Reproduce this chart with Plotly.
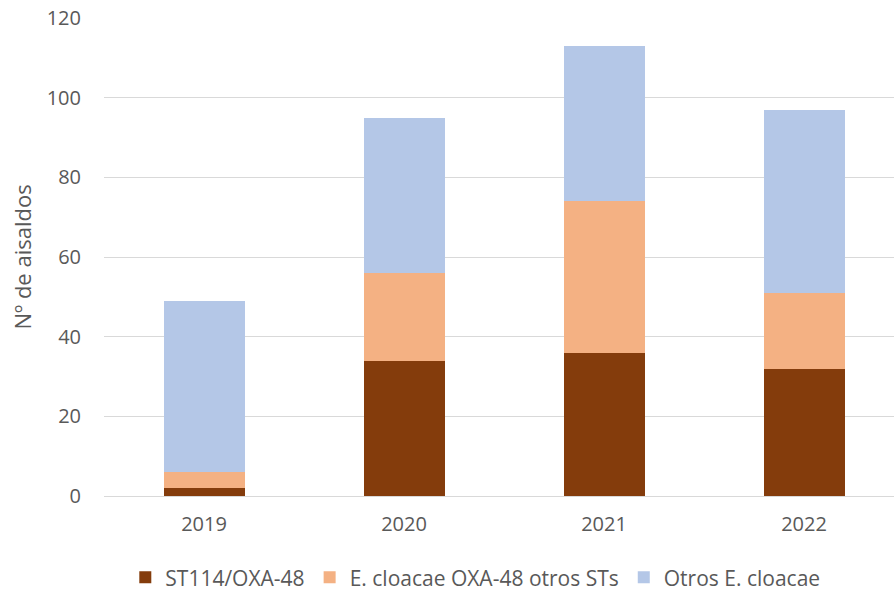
import plotly.graph_objects as go

years = ["2019", "2020", "2021", "2022"]
st114_oxa48 = [2, 34, 36, 32]
oxa48_otros_sts = [4, 22, 38, 19]
otros_cloacae = [43, 39, 39, 46]

series = [
    ("ST114/OXA-48", st114_oxa48, "#843C0C"),
    ("E. cloacae OXA-48 otros STs", oxa48_otros_sts, "#F4B183"),
    ("Otros E. cloacae", otros_cloacae, "#B4C7E7"),
]

fig = go.Figure()
for name, vals, color in series:
    fig.add_trace(go.Bar(x=years, y=vals, name=name, marker=dict(color=color, line=dict(width=0))))

font_family = "Open Sans, Liberation Sans, sans-serif"
text_color = "#595959"

fig.update_layout(
    barmode="stack",
    bargap=0.595,
    width=894,
    height=595,
    margin=dict(l=104, r=0, t=18, b=99, autoexpand=False),
    plot_bgcolor="white",
    paper_bgcolor="white",
    font=dict(family=font_family, size=20, color=text_color),
    legend=dict(
        orientation="h",
        x=0.47, xref="paper", xanchor="center",
        y=-0.128, yanchor="top",
        font=dict(size=21, color=text_color),
        itemwidth=30,
        traceorder="normal",
    ),
    showlegend=True,
)
fig.update_xaxes(
    range=[-0.5, 3.45],
    showgrid=False,
    showline=True,
    linecolor="#D9D9D9",
    linewidth=1,
    ticks="outside",
    ticklen=10,
    tickcolor="rgba(0,0,0,0)",
    tickfont=dict(size=20, color=text_color),
)
fig.update_yaxes(
    range=[0, 120],
    dtick=20,
    showgrid=True,
    gridcolor="#D9D9D9",
    gridwidth=1,
    zeroline=False,
    showline=False,
    ticks="outside",
    ticklen=18,
    tickcolor="rgba(0,0,0,0)",
    tickfont=dict(size=20, color=text_color),
    title=dict(text="Nº de aisaldos", font=dict(size=22, color=text_color), standoff=8),
)

fig.write_html("out.html")
